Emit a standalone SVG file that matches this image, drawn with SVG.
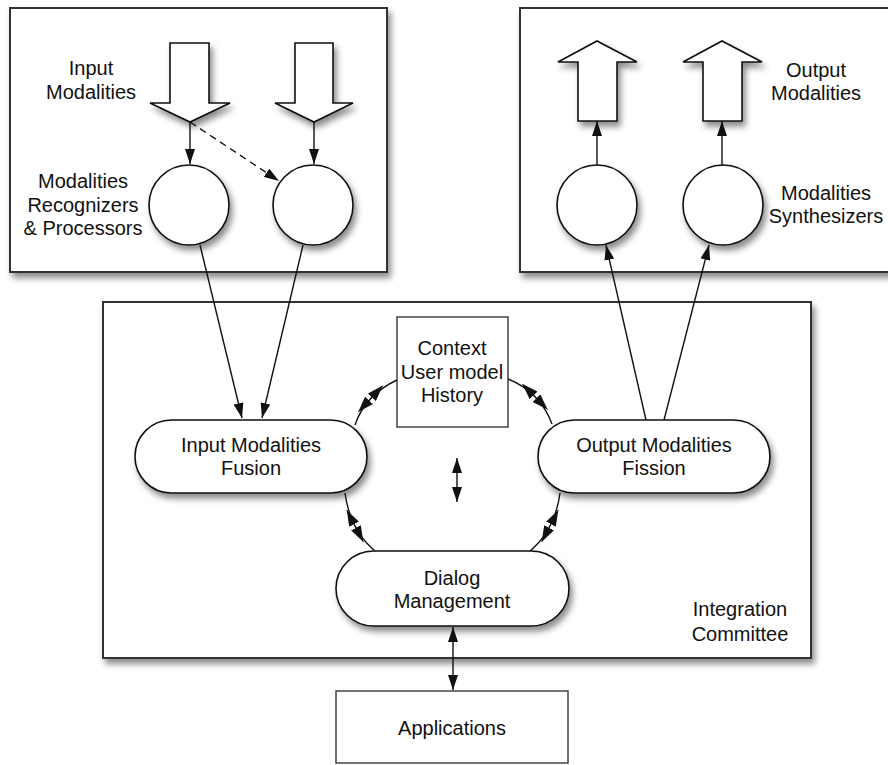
<svg xmlns="http://www.w3.org/2000/svg" width="888" height="765" viewBox="0 0 888 765">
<style>
  text { font-family: "Liberation Sans", Arial, sans-serif; font-size: 20px; fill: #111; text-anchor: middle; }
  .box { fill: #fff; stroke: #333; stroke-width: 2; filter: url(#sh); }
  .plain { fill: #fff; stroke: #444; stroke-width: 1.5; }
  .node { fill: #fff; stroke: #111; stroke-width: 1.6; filter: url(#sh); }
  .ln { fill: none; stroke: #111; stroke-width: 1.4; }
  .arr { marker-end: url(#ah); }
  .dbl { marker-start: url(#ah); marker-end: url(#ah); }
  .mid { fill: none; stroke: #111; stroke-width: 1; marker-end: url(#ahs); }
</style>
<defs>
  <filter id="sh" x="-20%" y="-20%" width="140%" height="150%">
    <feDropShadow dx="3" dy="5" stdDeviation="3" flood-color="#000" flood-opacity="0.45"/>
  </filter>
  <marker id="ah" markerUnits="userSpaceOnUse" viewBox="0 0 15 10" markerWidth="15" markerHeight="10" refX="15" refY="5" orient="auto-start-reverse">
    <path d="M0,0 L15,5 L0,10 z" fill="#111"/>
  </marker>
  <marker id="ahs" markerUnits="userSpaceOnUse" viewBox="0 0 16 11" markerWidth="16" markerHeight="11" refX="16" refY="5.5" orient="auto">
    <path d="M0,0 L16,5.5 L0,11 z" fill="#111"/>
  </marker>
</defs>
<rect width="888" height="765" fill="#fff"/>

<g id="input-panel">
  <rect class="box" x="10" y="8" width="377" height="264"/>
  <text x="91" y="75">Input</text>
  <text x="91" y="99">Modalities</text>
  <text x="83" y="188">Modalities</text>
  <text x="83" y="212">Recognizers</text>
  <text x="83" y="235">&amp; Processors</text>
</g>
<g id="output-panel">
  <rect class="box" x="520" y="8" width="380" height="264"/>
  <text x="816" y="77">Output</text>
  <text x="816" y="100">Modalities</text>
  <text x="826" y="200">Modalities</text>
  <text x="826" y="223">Synthesizers</text>
</g>
<g id="integration-committee">
  <rect class="box" x="103" y="302" width="708" height="356"/>
  <text x="740" y="616">Integration</text>
  <text x="740" y="641">Committee</text>
</g>

<g id="input-arrow-1"><path class="node" d="M170,43 H209 V103 H230 L190,122 L150,103 H170 Z"/></g>
<g id="input-arrow-2"><path class="node" d="M295,43 H333 V103 H353 L314,122 L275,103 H295 Z"/></g>
<g id="output-arrow-1"><path class="node" d="M578,121 H617 V62 H637 L597,41 L558,62 H578 Z"/></g>
<g id="output-arrow-2"><path class="node" d="M703,121 H742 V62 H762 L722,41 L683,62 H703 Z"/></g>

<g id="recognizer-1"><circle class="node" cx="189" cy="205" r="40"/></g>
<g id="recognizer-2"><circle class="node" cx="313" cy="205" r="40"/></g>
<g id="synthesizer-1"><circle class="node" cx="597" cy="205" r="40"/></g>
<g id="synthesizer-2"><circle class="node" cx="723" cy="205" r="40"/></g>

<g id="context">
  <rect class="plain" x="397" y="317" width="111" height="110"/>
  <text x="452" y="355">Context</text>
  <text x="452" y="379">User model</text>
  <text x="452" y="402">History</text>
</g>
<g id="fusion">
  <rect class="node" x="135" y="420" width="232" height="73" rx="36.5"/>
  <text x="251" y="452">Input Modalities</text>
  <text x="251" y="475">Fusion</text>
</g>
<g id="fission">
  <rect class="node" x="538" y="420" width="232" height="73" rx="36.5"/>
  <text x="654" y="452">Output Modalities</text>
  <text x="654" y="475">Fission</text>
</g>
<g id="dialog">
  <rect class="node" x="336" y="551" width="233" height="75" rx="37.5"/>
  <text x="452" y="585">Dialog</text>
  <text x="452" y="608">Management</text>
</g>
<g id="applications">
  <rect class="plain" x="336" y="691" width="232" height="72"/>
  <text x="452" y="735">Applications</text>
</g>

<g id="connectors">
  <path class="ln arr" d="M190,122 L190,164"/>
  <path class="ln arr" d="M314,122 L314,164"/>
  <path class="ln arr" d="M190,122 L279,181" stroke-dasharray="7,5"/>
  <path class="ln arr" d="M597,165 L597,121"/>
  <path class="ln arr" d="M722,165 L722,121"/>
  <path class="ln arr" d="M200,245 L242,418"/>
  <path class="ln arr" d="M303,245 L262,418"/>
  <path class="ln arr" d="M646,420 L606,245"/>
  <path class="ln arr" d="M664,420 L709,245"/>
  <path class="ln dbl" d="M453,627 L453,690"/>
  <path class="ln dbl" d="M457,458 L457,502"/>
  <path class="ln" d="M355,425 Q365,395 397,380"/>
  <path class="mid" d="M371.9,397.3 L382.8,385.6"/>
  <path class="mid" d="M369.1,400.3 L358.2,412.0"/>
  <path class="ln" d="M508,379 Q540,392 552,424"/>
  <path class="mid" d="M536.4,398.2 L547.6,409.6"/>
  <path class="mid" d="M533.6,395.4 L522.4,384.0"/>
  <path class="ln" d="M345,493 Q350,530 375,551"/>
  <path class="mid" d="M355.9,527.8 L363.3,542.0"/>
  <path class="mid" d="M354.1,524.2 L346.7,510.0"/>
  <path class="ln" d="M560,493 Q555,530 530,551"/>
  <path class="mid" d="M549.1,527.8 L541.7,542.0"/>
  <path class="mid" d="M550.9,524.2 L558.3,510.0"/>
</g>
</svg>
